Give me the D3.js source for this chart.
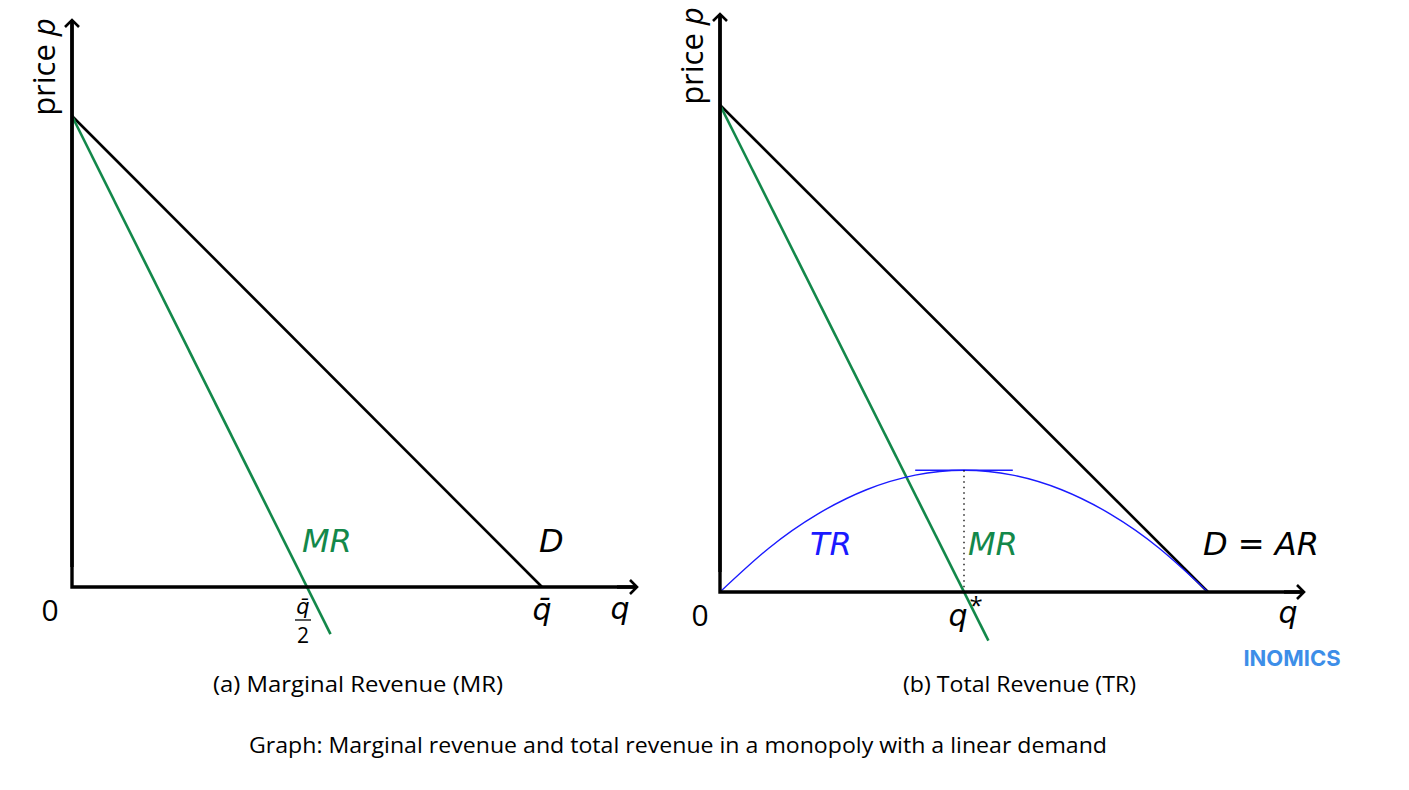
<!DOCTYPE html>
<html>
<head>
<meta charset="utf-8">
<script src="https://cdn.jsdelivr.net/npm/d3@7"></script>
<style>
  body { margin: 0; background: #fff; }
  svg { display: block; }
  .math { font-family: "DejaVu Sans", sans-serif; font-style: italic; }
  .cap { font-family: "Open Sans", sans-serif; }
</style>
</head>
<body>
<div id="chart-container"></div>
<script>
// model units: quantity 0..10 (q-bar = 10), price 0..10
var demandQ = [0, 10];
var demandP = [10, 0];
var mrQ = [0, 5.5];
var mrP = [10, -1];
var trQ = [0, 1, 2, 3, 4, 5, 6, 7, 8, 9, 10];
var trValues = [0, 9, 16, 21, 24, 25, 24, 21, 16, 9, 0];
var tangentQ = [4, 6];
var qStar = 5;

var green = "#13884a", blue = "#1a1aff";

var svg = d3.select("#chart-container").append("svg")
    .attr("width", 1409).attr("height", 790);

// arrow head
svg.append("defs").append("marker")
    .attr("id", "arrow")
    .attr("viewBox", "-10 -10 20 20")
    .attr("refX", 0).attr("refY", 0)
    .attr("markerWidth", 20).attr("markerHeight", 20)
    .attr("markerUnits", "userSpaceOnUse")
    .attr("orient", "auto")
    .append("path")
    .attr("d", "M-7,-7 L0,0 L-7,7")
    .attr("fill", "none").attr("stroke", "#000").attr("stroke-width", 2.6);

function line(g, x, y, qs, ps, color, w) {
    g.append("path")
        .datum(d3.zip(qs, ps))
        .attr("d", d3.line().x(function (d) { return x(d[0]); }).y(function (d) { return y(d[1]); }))
        .attr("fill", "none").attr("stroke", color).attr("stroke-width", w);
}

function axes(g, x, y, xEnd, yEnd) {
    g.append("path")
        .attr("d", "M" + x(0) + "," + yEnd + "L" + x(0) + "," + y(0) + "L" + xEnd + "," + y(0))
        .attr("fill", "none").attr("stroke", "#000").attr("stroke-width", 3.4);
    // the two ends again, with arrow heads
    g.append("line").attr("x1", x(0)).attr("y1", y(0) - 20).attr("x2", x(0)).attr("y2", yEnd)
        .attr("stroke", "#000").attr("stroke-width", 3.4).attr("marker-end", "url(#arrow)");
    g.append("line").attr("x1", xEnd - 20).attr("y1", y(0)).attr("x2", xEnd).attr("y2", y(0))
        .attr("stroke", "#000").attr("stroke-width", 3.4).attr("marker-end", "url(#arrow)");
}

function label(g, txt, x, y, color, size, cls, anchor) {
    return g.append("text").attr("class", cls || "math")
        .attr("x", x).attr("y", y)
        .attr("fill", color || "#000")
        .attr("font-size", size || 32)
        .attr("text-anchor", anchor || "start")
        .text(txt);
}

// ---------- panel (a) ----------
var xa = d3.scaleLinear().domain([0, 10]).range([72, 542]);
var ya = d3.scaleLinear().domain([0, 10]).range([587, 116]);
var ga = svg.append("g");

line(ga, xa, ya, demandQ, demandP, "#000", 2.6);
line(ga, xa, ya, mrQ, mrP, green, 2.6);
axes(ga, xa, ya, 637, 20);

var pa = ga.append("text").attr("class", "cap").attr("font-size", 31)
    .attr("transform", "translate(55,67) rotate(-90)")
    .attr("text-anchor", "middle");
pa.append("tspan").text("price ");
pa.append("tspan").attr("font-style", "italic").text("p");

label(ga, "0", 50, 621, "#000", 30, "cap", "middle");
label(ga, "MR", 302, 552, green, 32);
label(ga, "D", 539, 552, "#000", 32);
label(ga, "q̄", xa(10), 620, "#000", 30, "math", "middle");
label(ga, "q", 620, 619, "#000", 30, "math", "middle");
label(ga, "q̄", xa(5) - 4, 614, "#000", 21, "math", "middle");
ga.append("line").attr("x1", xa(5) - 12).attr("x2", xa(5) + 4)
    .attr("y1", 620).attr("y2", 620).attr("stroke", "#000").attr("stroke-width", 1.3);
label(ga, "2", xa(5) - 4, 643, "#000", 21, "cap", "middle");

// ---------- panel (b) ----------
var xb = d3.scaleLinear().domain([0, 10]).range([720, 1208]);
var yb = d3.scaleLinear().domain([0, 10]).range([592, 105]);
var yTR = d3.scaleLinear().domain([0, 100]).range([592, 105]);
var gb = svg.append("g");

line(gb, xb, yb, demandQ, demandP, "#000", 2.6);
line(gb, xb, yb, mrQ, mrP, green, 2.6);

gb.append("path")
    .datum(d3.zip(trQ, trValues))
    .attr("d", d3.line().curve(d3.curveNatural)
        .x(function (d) { return xb(d[0]); }).y(function (d) { return yTR(d[1]); }))
    .attr("fill", "none").attr("stroke", blue).attr("stroke-width", 1.4);

var trMax = d3.max(trValues);
line(gb, xb, yTR, tangentQ, [trMax, trMax], blue, 1.4);
gb.append("line")
    .attr("x1", xb(qStar)).attr("x2", xb(qStar))
    .attr("y1", yTR(trMax)).attr("y2", yTR(0))
    .attr("stroke", "#000").attr("stroke-width", 1.3).attr("stroke-dasharray", "1.5,4");

axes(gb, xb, yb, 1304, 14);

var pb = gb.append("text").attr("class", "cap").attr("font-size", 31)
    .attr("transform", "translate(703,56) rotate(-90)")
    .attr("text-anchor", "middle");
pb.append("tspan").text("price ");
pb.append("tspan").attr("font-style", "italic").text("p");

label(gb, "0", 700, 626, "#000", 30, "cap", "middle");
label(gb, "TR", 810, 555, blue, 32);
label(gb, "MR", 968, 555, green, 32);
label(gb, "D = AR", 1203, 555, "#000", 32);
label(gb, "q", xb(qStar) - 6, 626, "#000", 30, "math", "middle");
label(gb, "*", xb(qStar) + 12, 614, "#000", 24, "cap", "middle");
label(gb, "q", 1288, 623, "#000", 30, "math", "middle");

svg.append("text").attr("x", 1292).attr("y", 666)
    .attr("text-anchor", "middle")
    .attr("font-family", "Inter, 'Open Sans', sans-serif").attr("font-weight", 700)
    .attr("font-size", 22).attr("fill", "#3d8ee8")
    .text("INOMICS");

// ---------- captions ----------
label(svg, "(a)  Marginal Revenue (MR)", 213, 692, "#000", 21, "cap")
    .attr("textLength", 290).attr("lengthAdjust", "spacingAndGlyphs");
label(svg, "(b) Total Revenue (TR)", 903, 692, "#000", 21, "cap")
    .attr("textLength", 233).attr("lengthAdjust", "spacingAndGlyphs");
label(svg, "Graph: Marginal revenue and total revenue in a monopoly with a linear demand", 249, 753, "#000", 21, "cap")
    .attr("textLength", 858).attr("lengthAdjust", "spacingAndGlyphs");
</script>
</body>
</html>
